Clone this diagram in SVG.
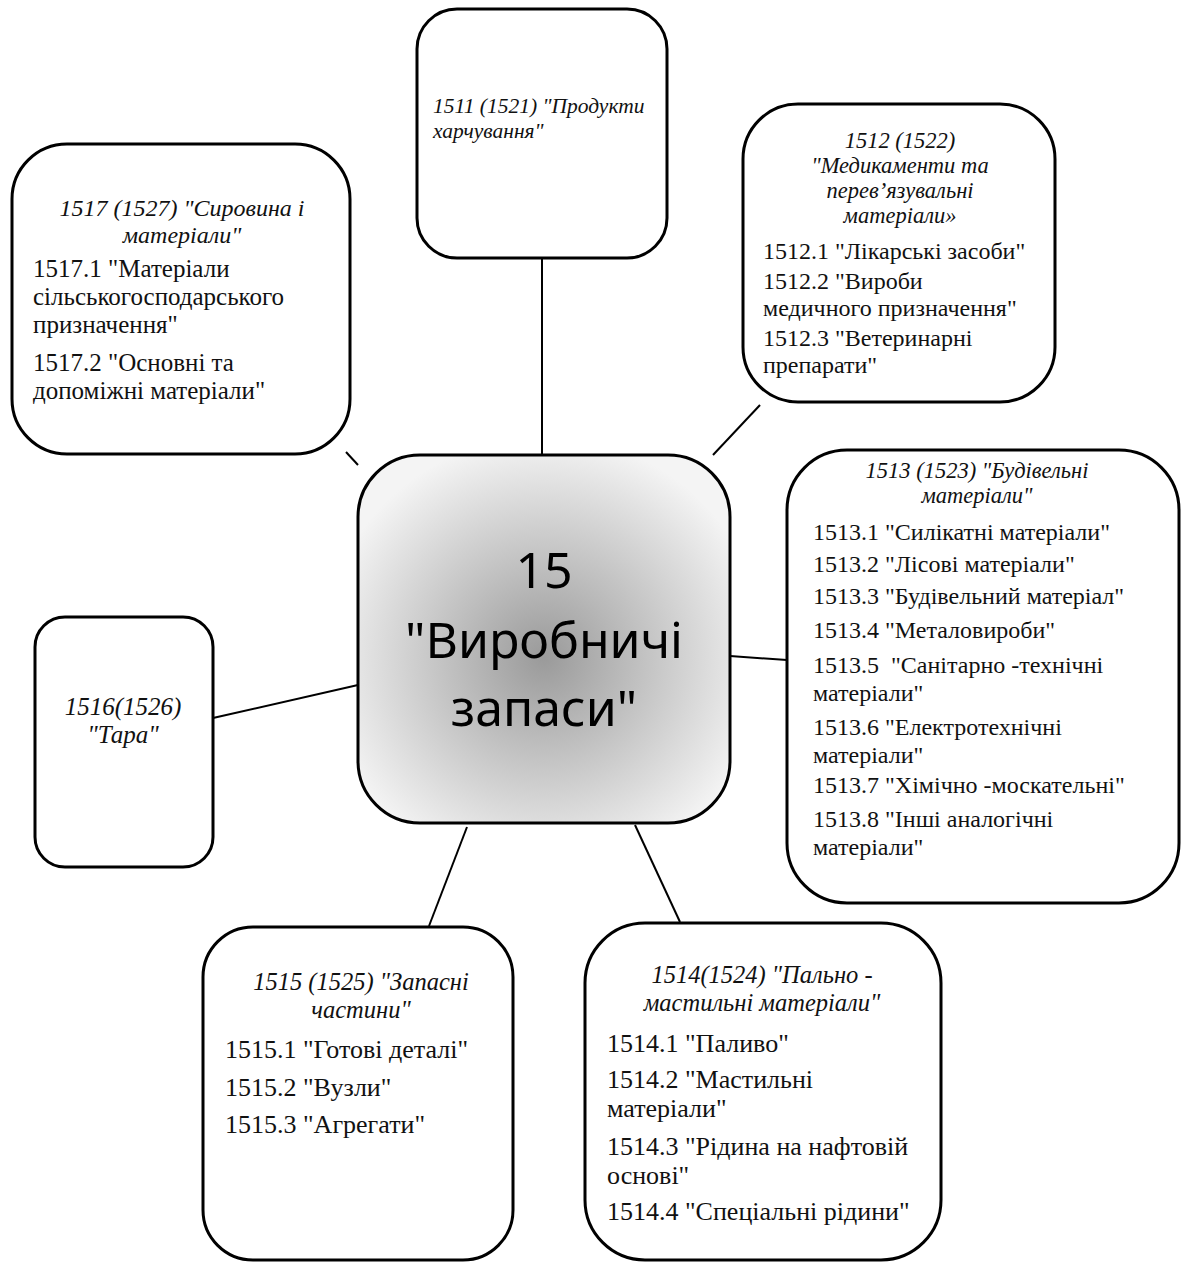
<svg xmlns="http://www.w3.org/2000/svg" width="1182" height="1263" viewBox="0 0 1182 1263">
<defs>
<radialGradient id="g" cx="50%" cy="55%" r="60%">
<stop offset="0" stop-color="#9a9a9a"/>
<stop offset="1" stop-color="#f4f4f4"/>
</radialGradient>
</defs>
<style>
.box{fill:#fff;stroke:#000;stroke-width:3}
.ctr{fill:url(#g);stroke:#000;stroke-width:3}
.ln{stroke:#000;stroke-width:2;fill:none}
.t{font-family:"Liberation Serif","Times New Roman",serif;fill:#111}
.i{font-family:"Liberation Serif","Times New Roman",serif;font-style:italic;fill:#111}
.c{font-family:"Noto Sans","Open Sans",sans-serif;font-size:50px;fill:#000;text-anchor:middle}
.m{text-anchor:middle}
</style>
<rect width="1182" height="1263" fill="#fff"/>
<g id="connectors">
<line class="ln" x1="542" y1="258" x2="542" y2="455"/>
<line class="ln" x1="760" y1="405" x2="713" y2="455"/>
<line class="ln" x1="346" y1="452" x2="358" y2="465"/>
<line class="ln" x1="213" y1="718" x2="358" y2="685"/>
<line class="ln" x1="730" y1="656" x2="787" y2="660"/>
<line class="ln" x1="467" y1="827" x2="429" y2="926"/>
<line class="ln" x1="635" y1="825" x2="680" y2="922"/>
</g>
<g id="n15">
<rect class="ctr" x="358" y="455" width="372" height="368" rx="62"/>
<text class="c" x="544" y="588">15</text>
<text class="c" x="544" y="658">"Виробничі</text>
<text class="c" x="544" y="726">запаси"</text>
</g>
<g id="n1511">
<rect class="box" x="417" y="9" width="250" height="249" rx="40"/>
<text class="i" font-size="21.5" x="433" y="113">1511 (1521) "Продукти</text>
<text class="i" font-size="21.5" x="433" y="138">харчування"</text>
</g>
<g id="n1512">
<rect class="box" x="743" y="104" width="312" height="298" rx="55"/>
<text class="i m" font-size="22.5" x="900" y="148">1512 (1522)</text>
<text class="i m" font-size="22.5" x="900" y="173">"Медикаменти та</text>
<text class="i m" font-size="22.5" x="900" y="198">перев’язувальні</text>
<text class="i m" font-size="22.5" x="900" y="223">матеріали»</text>
<text class="t" font-size="24" x="763" y="259">1512.1 "Лікарські засоби"</text>
<text class="t" font-size="24" x="763" y="289">1512.2 "Вироби</text>
<text class="t" font-size="24" x="763" y="316">медичного призначення"</text>
<text class="t" font-size="24" x="763" y="346">1512.3 "Ветеринарні</text>
<text class="t" font-size="24" x="763" y="373">препарати"</text>
</g>
<g id="n1517">
<rect class="box" x="12" y="144" width="338" height="310" rx="55"/>
<text class="i m" font-size="24" x="182" y="216">1517 (1527) "Сировина і</text>
<text class="i m" font-size="24" x="182" y="243">матеріали"</text>
<text class="t" font-size="25" x="33" y="277">1517.1 "Матеріали</text>
<text class="t" font-size="25" x="33" y="305">сільськогосподарського</text>
<text class="t" font-size="25" x="33" y="333">призначення"</text>
<text class="t" font-size="25" x="33" y="371">1517.2 "Основні та</text>
<text class="t" font-size="25" x="33" y="399">допоміжні матеріали"</text>
</g>
<g id="n1513">
<rect class="box" x="787" y="450" width="392" height="453" rx="60"/>
<text class="i m" font-size="22.5" x="977" y="478">1513 (1523) "Будівельні</text>
<text class="i m" font-size="22.5" x="977" y="503">матеріали"</text>
<text class="t" font-size="24" x="813" y="540">1513.1 "Силікатні матеріали"</text>
<text class="t" font-size="24" x="813" y="572">1513.2 "Лісові матеріали"</text>
<text class="t" font-size="24" x="813" y="604">1513.3 "Будівельний матеріал"</text>
<text class="t" font-size="24" x="813" y="638">1513.4 "Металовироби"</text>
<text class="t" font-size="24" x="813" y="673" xml:space="preserve">1513.5  "Санітарно -технічні</text>
<text class="t" font-size="24" x="813" y="701">матеріали"</text>
<text class="t" font-size="24" x="813" y="735">1513.6 "Електротехнічні</text>
<text class="t" font-size="24" x="813" y="763">матеріали"</text>
<text class="t" font-size="24" x="813" y="793">1513.7 "Хімічно -москательні"</text>
<text class="t" font-size="24" x="813" y="827">1513.8 "Інші аналогічні</text>
<text class="t" font-size="24" x="813" y="855">матеріали"</text>
</g>
<g id="n1516">
<rect class="box" x="35" y="617" width="178" height="250" rx="30"/>
<text class="i m" font-size="25" x="123" y="715">1516(1526)</text>
<text class="i m" font-size="25" x="123" y="743">"Тара"</text>
</g>
<g id="n1515">
<rect class="box" x="203" y="927" width="310" height="333" rx="50"/>
<text class="i m" font-size="24.5" x="361" y="990">1515 (1525) "Запасні</text>
<text class="i m" font-size="24.5" x="361" y="1018">частини"</text>
<text class="t" font-size="26" x="225" y="1058">1515.1 "Готові деталі"</text>
<text class="t" font-size="26" x="225" y="1096">1515.2 "Вузли"</text>
<text class="t" font-size="26" x="225" y="1133">1515.3 "Агрегати"</text>
</g>
<g id="n1514">
<rect class="box" x="585" y="923" width="356" height="337" rx="60"/>
<text class="i m" font-size="24.5" x="762" y="983">1514(1524) "Пально -</text>
<text class="i m" font-size="24.5" x="762" y="1011">мастильні матеріали"</text>
<text class="t" font-size="26" x="607" y="1052">1514.1 "Паливо"</text>
<text class="t" font-size="26" x="607" y="1088">1514.2 "Мастильні</text>
<text class="t" font-size="26" x="607" y="1117">матеріали"</text>
<text class="t" font-size="26" x="607" y="1155">1514.3 "Рідина на нафтовій</text>
<text class="t" font-size="26" x="607" y="1184">основі"</text>
<text class="t" font-size="26" x="607" y="1220">1514.4 "Спеціальні рідини"</text>
</g>
</svg>
